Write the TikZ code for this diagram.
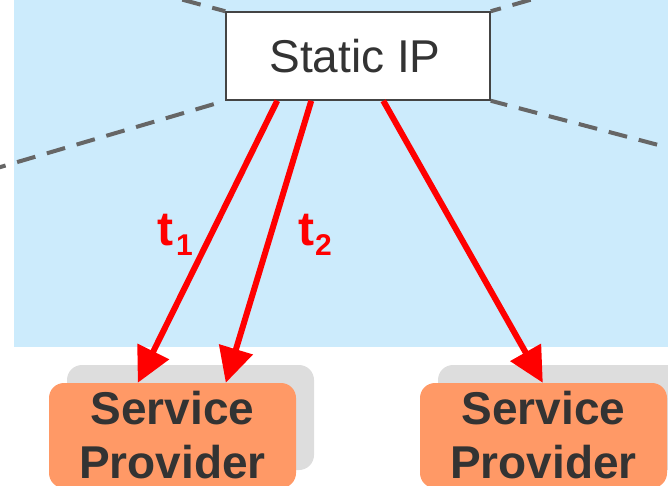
\documentclass[tikz,border=0pt]{standalone}
\usepackage{fontspec}
\setmainfont{Liberation Sans}
\usetikzlibrary{arrows.meta,shadows,calc}
\definecolor{bgblue}{RGB}{204,235,252}
\definecolor{spor}{RGB}{255,153,102}
\definecolor{shgray}{RGB}{221,221,221}
\definecolor{dgray}{RGB}{102,102,102}
\definecolor{txt}{RGB}{51,51,51}
\definecolor{bord}{RGB}{68,68,68}
\tikzset{
  ipbox/.style={draw=bord, line width=1.5pt, fill=white, minimum width=264pt, minimum height=88pt, inner sep=0pt, text=txt, font=\fontsize{46}{54}\selectfont},
  spbox/.style={fill=spor, rounded corners=15pt, minimum width=247pt, minimum height=105pt, inner sep=0pt, text=txt, align=center, font=\fontsize{46}{54}\selectfont\bfseries,
    drop shadow={shadow xshift=18pt, shadow yshift=18pt, fill=shgray, opacity=1}},
  dline/.style={draw=dgray, line width=4pt, dash pattern=on 19pt off 12pt},
  redarrow/.style={draw=red, line width=6pt, -{Triangle[length=35pt,width=34pt]}},
  tlab/.style={text=red, font=\fontsize{48}{48}\selectfont\bfseries, inner sep=0pt, anchor=base west},
  tsub/.style={text=red, font=\fontsize{30}{30}\selectfont\bfseries, inner sep=0pt, anchor=base west}
}
\begin{document}
\begin{tikzpicture}[x=1pt,y=-1pt]
\useasboundingbox (0,0) rectangle (668,486);
\clip (0,0) rectangle (668,486);
\fill[bgblue] (14,0) rectangle (668,347);
\coordinate (dTL) at (-24,-56);
\coordinate (dBL) at (-30,176);
\coordinate (dTR) at (700,-49);
\coordinate (dBR) at (700,156);
\node[ipbox] (ip) at (358,56) {Static IP\hspace*{6pt}};
\draw[dline, dash phase=5.5pt] (ip.north west) -- (dTL);
\draw[dline, dash phase=19pt] (ip.south west) -- (dBL);
\draw[dline, dash phase=8.5pt] (ip.north east) -- (dTR);
\draw[dline, dash phase=2pt] (ip.south east) -- (dBR);
\node[spbox] (sp1) at (172.5,435.5) {Service\\Provider};
\node[spbox] (sp2) at (543.5,435.5) {Service\\Provider};
\draw[redarrow] ([xshift=52pt]ip.south west) -- ([xshift=89pt]sp1.north west);
\draw[redarrow] ([xshift=86pt]ip.south west) -- ([xshift=177pt]sp1.north west);
\draw[redarrow] ([xshift=158pt]ip.south west) -- ([xshift=123pt]sp2.north west);
\node[tlab] (t1) at (157,245) {t};
\node[tsub] (t1s) at (176,255) {1};
\node[tlab] (t2) at (298,245) {t};
\node[tsub] (t2s) at (315,255) {2};
\end{tikzpicture}
\end{document}
